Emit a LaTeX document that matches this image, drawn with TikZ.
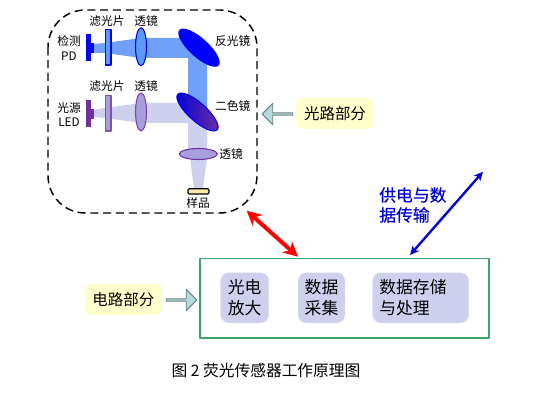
\documentclass[tikz,border=0pt]{standalone}
\usepackage{fontspec}
\setmainfont{Liberation Sans}
\newfontfamily\cjk{Noto Sans CJK SC}
\newfontfamily\cjkmed[FakeBold=0.5]{Noto Sans CJK SC}
\usetikzlibrary{arrows.meta,shapes.arrows}
\definecolor{beamblue}{HTML}{6FA0FA}
\definecolor{beamviolet}{HTML}{CFCFEE}
\definecolor{lensblue}{HTML}{5B9BF5}
\definecolor{lensviolet}{HTML}{A79FDC}
\definecolor{darkviolet}{HTML}{7030A0}
\definecolor{noteyellow}{HTML}{FFFFCC}
\definecolor{arrowteal}{HTML}{B5DCDC}
\definecolor{blockviolet}{HTML}{CFCFEE}
\definecolor{framegreen}{HTML}{3FA46A}
\tikzset{
  optlabel/.style={font=\cjk\fontsize{8.8pt}{10.4pt}\selectfont, inner sep=0pt, align=center},
  notebox/.style={fill=noteyellow, rounded corners=4.5pt, minimum width=58pt, minimum height=23pt, inner sep=0pt,
    font=\cjk\fontsize{11.6pt}{13pt}\selectfont},
  block/.style={fill=blockviolet, draw=blockviolet!70!white, rounded corners=6pt, minimum height=37.5pt, inner sep=0pt,
    align=center, font=\cjk\fontsize{12.6pt}{16.2pt}\selectfont},
  hollow/.style={single arrow, draw=gray!85!teal, fill=arrowteal, line width=0.7pt, inner sep=0pt,
    minimum height=23pt, minimum width=16pt, single arrow head extend=3pt, single arrow tip angle=90},
}
\begin{document}
\begin{tikzpicture}[x=0.75pt, y=-0.75pt, line join=round]
\useasboundingbox (0,0) rectangle (543,402);
\fill[white] (0,0) rectangle (543,402);

% Dashed housing
\draw[line width=1.1pt, dash pattern=on 6pt off 3.6pt, rounded corners=28pt] (48,10) rectangle (257,213);

% Beams
\fill[beamviolet] (93,110) -- (105,108) -- (141,103) -- (188,103) -- (207,125) -- (207,154) -- (188,154) -- (188,123) -- (141,123) -- (105,118) -- (93,117) -- cycle;
\fill[beamviolet] (190,158) -- (207,158) -- (203,188) -- (194,188) -- cycle;
\fill[beamblue] (93,44) -- (105,43) -- (141,38) -- (200,38) -- (207,47) -- (207,112) -- (188,95) -- (188,58) -- (141,58) -- (105,53) -- (93,53) -- cycle;

% Detector
\fill[blue] (85.5,34) rectangle (91,61);
\fill[blue] (91,43) rectangle (94,53);
\draw[blue, fill=lensblue, line width=0.8pt] (105.5,29.5) rectangle (111,65);
\draw[blue!90!black, fill=lensblue, line width=0.8pt] (141,46.7) ellipse [x radius=5.5, y radius=19];
\node[optlabel] (filterup) at (107,21.5) {滤光片};
\node[optlabel] (lensup) at (146,21.5) {透镜};
\node[optlabel] (detector) at (69,48) {检测\\[0.5pt]PD};

% Source
\fill[darkviolet] (85.5,100) rectangle (91,127);
\fill[darkviolet] (91,109) rectangle (93.5,119);
\draw[darkviolet!70!lensviolet, fill=lensviolet, line width=0.8pt] (105.5,95.5) rectangle (111,131);
\draw[darkviolet!80!lensviolet, fill=lensviolet, line width=0.8pt] (141,112) ellipse [x radius=5.5, y radius=19];
\node[optlabel] (filterdown) at (107,86.5) {滤光片};
\node[optlabel] (lensdown) at (146,86.5) {透镜};
\node[optlabel] (source) at (69,114.5) {光源\\[0.5pt]LED};

% Mirrors
\fill[blue, rotate around={-42:(199,47.7)}] (199,47.7) ellipse [x radius=26.5, y radius=9.5];
\node[optlabel] (mirror) at (232.7,41) {反光镜};
\draw[blue, line width=0.8pt, rotate around={-42:(197.5,112)}, left color=blue!85!black, right color=darkviolet] (197.5,112) ellipse [x radius=26.5, y radius=9];
\node[optlabel] (dichroic) at (232.7,106) {二色镜};

% Lens and sample
\draw[darkviolet, fill=lensviolet, line width=0.8pt] (198.3,154) ellipse [x radius=19, y radius=5.5];
\node[optlabel] (lensout) at (231,154) {透镜};
\draw[black, fill=noteyellow!85!orange, line width=0.9pt, rounded corners=1pt] (188,188.7) rectangle (209,194);
\node[optlabel] (sample) at (198,203) {样品};

% Notes
\node[notebox] (optic) at (335,113.5) {光路部分};
\node[hollow, shape border rotate=180] (opticarrow) at (278,114) {};
\node[notebox] (circuit) at (123.3,299.5) {电路部分};
\node[hollow] (circuitarrow) at (181,300) {};

% Circuit board
\draw[framegreen, line width=1pt] (200,258.7) rectangle (489,338);
\node[block, minimum width=36pt] (amp) at (244.7,297.8) {光电\\放大};
\node[block, minimum width=35pt] (adc) at (321.5,297.8) {数据\\采集};
\node[block, text width=72pt, align=left] (store) at (420.7,297.8) {\hspace*{5pt}数据存储\\\hspace*{5pt}与处理};

% Links
\coordinate (housing) at (246.7,210.7);
\coordinate (boardtop) at (298,256.7);
\coordinate (boardout) at (410,255);
\coordinate (remote) at (483,171.7);
\draw[{Stealth[length=11pt,width=11pt]}-{Stealth[length=11pt,width=11pt]}, red, line width=3pt] (housing) -- (boardtop);
\draw[{Stealth[length=7pt,width=6.5pt]}-{Stealth[length=7pt,width=6.5pt]}, blue!85!black, line width=1.8pt] (boardout) -- (remote);
\node[anchor=west, inner sep=0pt, align=left, text=blue!85!black, font=\cjkmed\fontsize{12.6pt}{15pt}\selectfont] (power) at (379,205) {供电与数\\据传输};

% Caption
\node[inner sep=0pt, font=\cjk\fontsize{11.8pt}{13pt}\selectfont] (caption) at (266,370.5) {图 2 荧光传感器工作原理图};
\end{tikzpicture}
\end{document}
